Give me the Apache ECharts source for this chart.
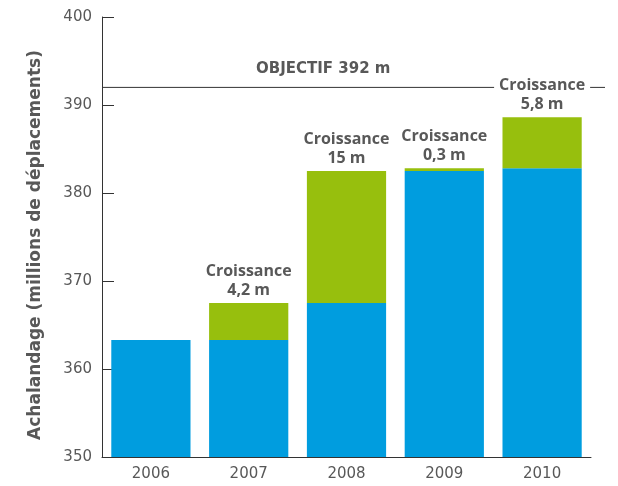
<!DOCTYPE html>
<html>
<head>
<meta charset="utf-8">
<script src="https://cdn.jsdelivr.net/npm/echarts@6/dist/echarts.min.js"></script>
<style>
  html, body { margin: 0; padding: 0; background: #fff; }
  #chart { width: 618px; height: 486px; }
</style>
</head>
<body>
<div id="chart"></div>
<script>
// Ridership by year: base level plus the yearly growth stacked on top
const years = ['2006', '2007', '2008', '2009', '2010'];
const baseRidership = [363.3, 363.3, 367.5, 382.5, 382.8];
const growth = [null, 4.2, 15, 0.3, 5.8];
const objective = 392;
const yTicks = { min: 350, max: 400, interval: 10 };

const textGray = '#585858';
const axisColor = '#333';
const tickFont = '"DejaVu Sans", sans-serif';
const boldFont = '"Open Sans", "DejaVu Sans", sans-serif';

const chart = echarts.init(document.getElementById('chart'), null, { renderer: 'canvas' });

const fmt = v => String(v).replace('.', ',');

chart.setOption({
  animation: false,
  grid: [
    { left: 102, right: 27, top: 17, bottom: 29 },
    // wider grid used only for the objective line, which runs past the axis end
    { left: 102, right: 13, top: 17, bottom: 29 }
  ],
  xAxis: [
    {
      type: 'category',
      data: years,
      gridIndex: 0,
      axisLine: { lineStyle: { color: axisColor, width: 1 } },
      axisTick: { inside: true, length: 12, interval: 0, lineStyle: { color: axisColor } },
      axisLabel: { color: textGray, fontSize: 15, margin: 10, fontFamily: tickFont }
    },
    { type: 'value', gridIndex: 1, min: 0, max: 1, show: false }
  ],
  yAxis: [
    {
      type: 'value',
      gridIndex: 0,
      min: yTicks.min,
      max: yTicks.max,
      interval: yTicks.interval,
      name: 'Achalandage (millions de déplacements)',
      nameLocation: 'middle',
      nameGap: 58,
      nameTextStyle: {
        color: textGray, fontSize: 17, fontWeight: 'bold', fontFamily: tickFont,
        padding: [0, 16, 0, 0]
      },
      axisLine: { show: true, lineStyle: { color: axisColor, width: 1 } },
      axisTick: { show: true, inside: true, length: 12, lineStyle: { color: axisColor } },
      axisLabel: { color: textGray, fontSize: 15, margin: 10, fontFamily: tickFont },
      splitLine: { show: false }
    },
    { type: 'value', gridIndex: 1, min: yTicks.min, max: yTicks.max, show: false }
  ],
  series: [
    {
      name: 'Objectif',
      type: 'line',
      xAxisIndex: 1,
      yAxisIndex: 1,
      z: 1,
      symbol: 'none',
      silent: true,
      lineStyle: { color: axisColor, width: 1 },
      data: [[0, objective], [1, objective]]
    },
    {
      name: 'Achalandage',
      type: 'bar',
      stack: 'total',
      z: 3,
      barWidth: '81%',
      itemStyle: { color: '#009ddf' },
      data: baseRidership
    },
    {
      name: 'Croissance',
      type: 'bar',
      stack: 'total',
      z: 3,
      barWidth: '81%',
      itemStyle: { color: '#97bf0d' },
      label: {
        show: true,
        position: 'top',
        distance: 3,
        color: textGray,
        fontSize: 16,
        fontWeight: 'bold',
        lineHeight: 19,
        align: 'center',
        backgroundColor: '#fff',
        padding: [1, 5, 0, 5],
        fontFamily: boldFont,
        formatter: p => 'Croissance\n' + fmt(p.value) + ' m'
      },
      data: growth
    }
  ],
  graphic: [
    {
      type: 'text',
      left: 256,
      top: 62,
      style: {
        text: 'OBJECTIF ' + objective + ' m',
        fill: textGray,
        font: 'bold 15px ' + tickFont
      }
    }
  ]
});
</script>
</body>
</html>
